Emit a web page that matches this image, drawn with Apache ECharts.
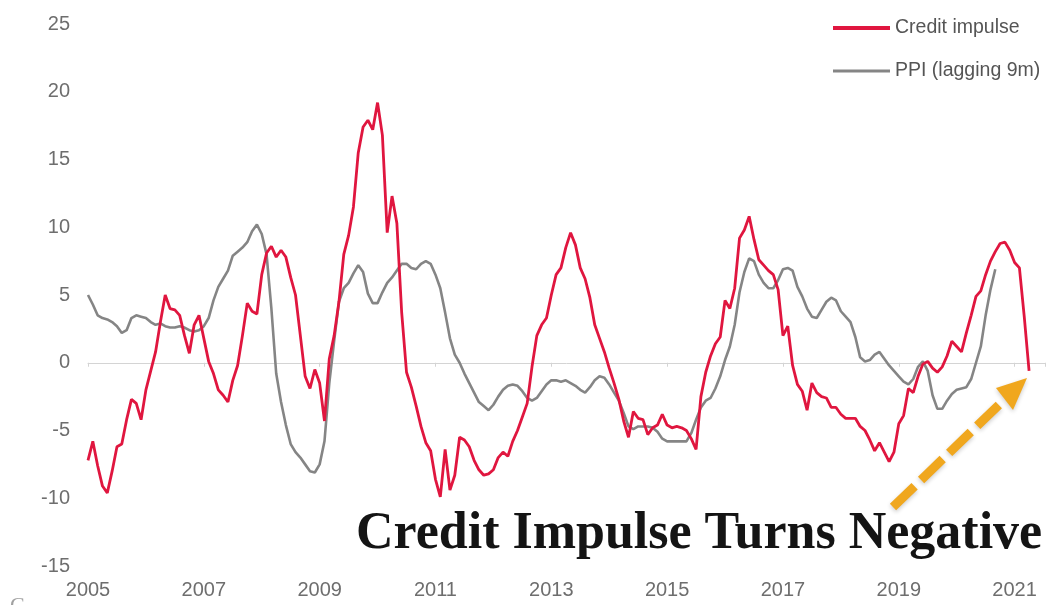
<!DOCTYPE html>
<html>
<head>
<meta charset="utf-8">
<script src="https://cdn.jsdelivr.net/npm/echarts@6/dist/echarts.min.js"></script>
<style>
  html, body { margin: 0; padding: 0; background: #ffffff; }
  #chart { width: 1047px; height: 605px; }
</style>
</head>
<body>
<div id="chart"></div>
<script>
// Monthly observations, first value = January 2005
const yearLabels = ['2005', '2007', '2009', '2011', '2013', '2015', '2017', '2019', '2021'];
const monthsPerLabel = 24;

// China credit impulse, % of GDP (Jan 2005 - Apr 2021)
const creditImpulse = [
  -7.2, -5.8, -7.6, -9.1, -9.6, -8.0, -6.2, -6.0, -4.2, -2.7, -3.0, -4.2,
  -2.0, -0.6, 0.8, 3.0, 5.0, 4.0, 3.9, 3.5, 2.0, 0.7, 2.8, 3.5,
  1.8, 0.1, -0.8, -2.0, -2.4, -2.9, -1.3, -0.2, 2.0, 4.4, 3.8, 3.6,
  6.5, 8.1, 8.6, 7.8, 8.3, 7.8, 6.3, 5.0, 2.0, -1.0, -1.9, -0.5,
  -1.5, -4.3, 0.3, 2.0, 4.5, 8.0, 9.4, 11.5, 15.5, 17.4, 17.9, 17.2,
  19.2, 16.8, 9.6, 12.3, 10.3, 3.7, -0.7, -1.8, -3.2, -4.7, -5.9, -6.5,
  -8.6, -9.9, -6.4, -9.4, -8.3, -5.5, -5.7, -6.2, -7.2, -7.9, -8.3, -8.2,
  -7.9, -7.0, -6.6, -6.9, -5.8, -5.0, -4.0, -3.0, -0.3, 2.0, 2.8, 3.3,
  5.0, 6.5, 7.0, 8.5, 9.6, 8.7, 7.0, 6.2, 4.8, 2.8, 1.8, 0.8,
  -0.4, -1.5, -2.7, -4.3, -5.5, -3.6, -4.1, -4.2, -5.3, -4.8, -4.6, -3.8,
  -4.6, -4.8, -4.7, -4.8, -5.0, -5.6, -6.4, -2.5, -0.7, 0.5, 1.4, 1.9,
  4.6, 4.0, 5.5, 9.2, 9.8, 10.8, 9.1, 7.6, 7.2, 6.8, 6.5, 5.4,
  2.0, 2.7, -0.2, -1.6, -2.1, -3.5, -1.5, -2.2, -2.5, -2.6, -3.3, -3.3,
  -3.8, -4.1, -4.1, -4.1, -4.7, -5.0, -5.7, -6.5, -5.9, -6.6, -7.3, -6.6,
  -4.5, -3.9, -1.9, -2.2, -1.0, -0.1, 0.1, -0.4, -0.7, -0.3, 0.5, 1.6,
  1.2, 0.8, 2.2, 3.5, 4.9, 5.3, 6.5, 7.5, 8.2, 8.8, 8.9, 8.3,
  7.4, 7.0, 3.4, -0.6
];

// PPI y/y, shifted forward by 9 months
const ppiLagged = [
  5.0, 4.3, 3.5, 3.3, 3.2, 3.0, 2.7, 2.2, 2.4, 3.3, 3.5, 3.4,
  3.3, 3.0, 2.8, 2.9, 2.7, 2.6, 2.6, 2.7, 2.6, 2.4, 2.3, 2.4,
  2.7, 3.3, 4.6, 5.6, 6.2, 6.8, 7.9, 8.2, 8.5, 8.9, 9.7, 10.2,
  9.5, 8.0, 4.0, -0.8, -2.9, -4.6, -6.0, -6.6, -7.0, -7.5, -8.0, -8.1,
  -7.5, -5.8, -1.5, 1.6, 4.5, 5.5, 5.9, 6.6, 7.2, 6.7, 5.1, 4.4,
  4.4, 5.2, 5.9, 6.3, 6.8, 7.3, 7.3, 7.0, 6.9, 7.3, 7.5, 7.3,
  6.5, 5.5, 3.7, 1.8, 0.6, 0.0, -0.8, -1.5, -2.2, -2.9, -3.2, -3.5,
  -3.1, -2.5, -2.0, -1.7, -1.6, -1.7, -2.1, -2.6, -2.8, -2.6, -2.1, -1.6,
  -1.3, -1.3, -1.4, -1.3, -1.5, -1.7, -2.0, -2.2, -1.8, -1.3, -1.0, -1.1,
  -1.6, -2.2, -2.8, -3.7, -4.7, -4.9, -4.7, -4.7, -4.7, -4.8, -5.1, -5.6,
  -5.8, -5.8, -5.8, -5.8, -5.8, -5.2, -4.2, -3.3, -2.8, -2.6, -1.9, -1.0,
  0.2, 1.2, 2.8, 5.2, 6.7, 7.7, 7.5, 6.5, 5.9, 5.5, 5.5, 6.1,
  6.9, 7.0, 6.8, 5.6, 4.9, 4.0, 3.4, 3.3, 3.9, 4.5, 4.8, 4.6,
  3.8, 3.4, 3.0, 1.9, 0.4, 0.1, 0.2, 0.6, 0.8, 0.3, -0.2, -0.6,
  -1.0, -1.4, -1.6, -1.2, -0.3, 0.1, -0.6, -2.4, -3.4, -3.4, -2.8, -2.3,
  -2.0, -1.9, -1.8, -1.2, 0.0, 1.2, 3.5, 5.4, 6.9
];

const RED = '#E0163F';
const GREY = '#858585';
const ORANGE = '#F0A71E';

const toPairs = arr => arr.map((v, i) => [i, v]);

const chart = echarts.init(document.getElementById('chart'), null, { renderer: 'canvas' });

const axisFont = { fontFamily: '"Liberation Sans", Arial, sans-serif', fontSize: 20, color: '#6e6e6e' };

chart.setOption({
  animation: false,
  backgroundColor: '#ffffff',
  grid: { left: 88, right: 2, top: 24, bottom: 39, containLabel: false },
  legend: {
    show: true,
    orient: 'vertical',
    left: 833,
    top: 18,
    padding: 0,
    itemWidth: 57,
    itemHeight: 14,
    itemGap: 23,
    textStyle: { fontFamily: '"Liberation Sans", Arial, sans-serif', fontSize: 19.5, color: '#555555' },
    data: [
      { name: 'Credit impulse', icon: 'path://M0,0h100v7h-100z' },
      { name: 'PPI (lagging 9m)', icon: 'path://M0,0h100v5h-100z' }
    ]
  },
  xAxis: [
    {
      type: 'value',
      min: 0,
      max: 198.3,
      interval: monthsPerLabel,
      position: 'bottom',
      axisLine: { show: false, onZero: false },
      axisTick: { show: false },
      splitLine: { show: false },
      axisLabel: Object.assign({
        margin: 14,
        showMaxLabel: false,
        formatter: v => (v % monthsPerLabel === 0 ? (yearLabels[v / monthsPerLabel] || '') : '')
      }, axisFont)
    },
    {
      type: 'value',
      min: 0,
      max: 198.3,
      interval: monthsPerLabel,
      position: 'top',
      axisLine: { show: true, onZero: true, lineStyle: { color: '#d4d4d4', width: 1 } },
      axisTick: { show: true, inside: true, length: 4, lineStyle: { color: '#d4d4d4' } },
      axisLabel: { show: false },
      splitLine: { show: false }
    }
  ],
  yAxis: {
    type: 'value',
    min: -15,
    max: 25,
    interval: 5,
    axisLine: { show: false },
    axisTick: { show: false },
    splitLine: { show: false },
    axisLabel: Object.assign({ margin: 18 }, axisFont)
  },
  series: [
    {
      name: 'PPI (lagging 9m)',
      type: 'line',
      xAxisIndex: 0,
      data: toPairs(ppiLagged),
      symbol: 'none',
      z: 2,
      lineStyle: { color: GREY, width: 2.6 },
      itemStyle: { color: GREY }
    },
    {
      name: 'Credit impulse',
      type: 'line',
      xAxisIndex: 0,
      data: toPairs(creditImpulse),
      symbol: 'none',
      z: 3,
      lineStyle: { color: RED, width: 2.8 },
      itemStyle: { color: RED }
    }
  ],
  graphic: [
    {
      type: 'text',
      z: 10,
      style: {
        x: 356,
        y: 535,
        text: 'Credit Impulse Turns Negative',
        font: 'bold 52px "Liberation Serif", "Times New Roman", serif',
        fill: '#141414',
        verticalAlign: 'middle',
        shadowColor: 'rgba(0,0,0,0.45)',
        shadowBlur: 7,
        shadowOffsetX: 2,
        shadowOffsetY: 5
      }
    },
    {
      type: 'line',
      z: 9,
      shape: { x1: 893, y1: 507, x2: 1004, y2: 400 },
      style: {
        stroke: ORANGE,
        lineWidth: 9,
        lineDash: [30, 9],
        shadowColor: 'rgba(0,0,0,0.2)',
        shadowBlur: 4,
        shadowOffsetY: 2
      }
    },
    {
      type: 'polygon',
      z: 9,
      shape: { points: [[1027, 378], [996, 388], [1013, 410]] },
      style: {
        fill: ORANGE,
        shadowColor: 'rgba(0,0,0,0.2)',
        shadowBlur: 4,
        shadowOffsetY: 2
      }
    },
    {
      type: 'text',
      z: 10,
      style: {
        x: 10,
        y: 595,
        text: 'C',
        font: '22px "Liberation Serif", serif',
        fill: '#a0a0a0',
        verticalAlign: 'top'
      }
    }
  ]
});
</script>
</body>
</html>
